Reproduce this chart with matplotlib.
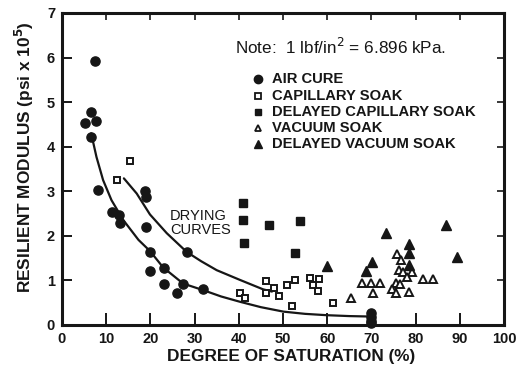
import matplotlib
matplotlib.use("Agg")
import matplotlib.pyplot as plt

plt.rcParams['font.family'] = ['Liberation Sans', 'DejaVu Sans']

INK = '#161616'

# Degree of saturation (%) and resilient modulus (psi x 10^5) per curing / soaking method
air_cure_x = [7.5, 6.5, 5.2, 7.7, 6.5, 8.2, 11.2, 13.0, 13.1, 18.8, 18.9, 19.0, 19.9, 19.8,
              23.1, 23.1, 27.3, 26.1, 32.0, 28.2, 69.8, 69.9, 69.8, 70.0]
air_cure_y = [5.92, 4.78, 4.53, 4.58, 4.21, 3.04, 2.54, 2.47, 2.29, 3.00, 2.87, 2.20, 1.64, 1.22,
              1.27, 0.93, 0.92, 0.71, 0.80, 1.64, 0.26, 0.18, 0.10, 0.04]

cap_soak_x = [15.4, 12.4, 40.3, 41.4, 46.2, 46.2, 48.0, 49.2, 50.8, 52.7, 52.0, 56.0, 56.9,
              58.2, 58.0, 61.2]
cap_soak_y = [3.68, 3.25, 0.71, 0.60, 0.99, 0.71, 0.82, 0.66, 0.90, 1.01, 0.43, 1.05, 0.90,
              1.03, 0.77, 0.50]

delayed_cap_x = [41.0, 41.0, 41.2, 46.9, 53.8, 52.7]
delayed_cap_y = [2.73, 2.36, 1.83, 2.24, 2.33, 1.61]

vac_soak_x = [67.8, 65.4, 70.0, 70.3, 72.0, 75.7, 76.6, 76.3, 77.2, 79.1, 78.1, 75.6, 76.5,
              74.6, 75.6, 78.6, 81.7, 83.9]
vac_soak_y = [0.95, 0.60, 0.95, 0.72, 0.95, 1.59, 1.46, 1.23, 1.20, 1.20, 1.07, 0.95, 0.93,
              0.80, 0.72, 0.75, 1.03, 1.03]

delayed_vac_x = [59.9, 68.8, 70.1, 73.2, 78.4, 78.4, 78.4, 86.9, 89.3]
delayed_vac_y = [1.32, 1.21, 1.41, 2.06, 1.81, 1.61, 1.35, 2.24, 1.53]

# Hand-drawn drying curves
dry_lower_x = [6.6, 7.8, 9.3, 11.2, 13.9, 17.3, 19.9, 22.9, 27.4, 32.0, 36.0, 40.3, 45.0,
               50.1, 55.0, 59.9, 65.0, 69.7]
dry_lower_y = [4.30, 3.77, 3.25, 2.80, 2.35, 1.91, 1.66, 1.29, 0.93, 0.78, 0.64, 0.52, 0.40,
               0.30, 0.25, 0.22, 0.20, 0.19]
dry_upper_x = [14.0, 16.9, 19.9, 23.7, 28.2, 31.5, 35.0, 40.3, 45.5, 47.5]
dry_upper_y = [3.29, 2.95, 2.48, 2.06, 1.64, 1.43, 1.23, 1.01, 0.80, 0.75]

x_ticks = list(range(0, 101, 10))
x_tick_labels = ['0', '10', '20', '30', '40', '50', '60', '70', '80', '90', '100']
y_ticks = list(range(0, 8))
y_tick_labels = ['0', '1', '2', '3', '4', '5', '6', '7']

legend_labels = ['AIR CURE', 'CAPILLARY SOAK', 'DELAYED CAPILLARY SOAK', 'VACUUM SOAK',
                 'DELAYED VACUUM SOAK']

W, H = 517, 371
fig = plt.figure(figsize=(W / 100, H / 100), dpi=100)
ax_l, ax_r, ax_b, ax_t = 62, 504, 325, 13
ax = fig.add_axes([ax_l / W, 1 - ax_b / H, (ax_r - ax_l) / W, (ax_b - ax_t) / H])


def fx(px):
    return (px - ax_l) / (ax_r - ax_l)


def fy(py):
    return (ax_b - py) / (ax_b - ax_t)


# drying curves
ax.plot(dry_lower_x, dry_lower_y, color=INK, lw=1.6, solid_capstyle='round', zorder=2)
ax.plot(dry_upper_x, dry_upper_y, color=INK, lw=1.6, solid_capstyle='round', zorder=2)

# data points
ax.plot(air_cure_x, air_cure_y, 'o', ms=6.6, color=INK, mec=INK, zorder=3, clip_on=False)
ax.plot(cap_soak_x, cap_soak_y, 's', ms=5, mfc='white', mec=INK, mew=1.4, zorder=3)
ax.plot(delayed_cap_x, delayed_cap_y, 's', ms=5.5, color=INK, zorder=3)
ax.plot(vac_soak_x, vac_soak_y, '^', ms=6, mfc='white', mec=INK, mew=1.4, zorder=3)
ax.plot(delayed_vac_x, delayed_vac_y, '^', ms=7.5, color=INK, zorder=3)

ax.set_xlim(0, 100)
ax.set_ylim(0, 7)

for s in ax.spines.values():
    s.set_linewidth(2.2)
    s.set_color(INK)

ax.set_xticks(x_ticks)
ax.set_xticklabels(x_tick_labels)
ax.set_yticks(y_ticks)
ax.set_yticklabels(y_tick_labels)
ax.tick_params(axis='x', direction='in', length=9, width=1.4, pad=5, colors=INK,
               labelsize=10.5)
ax.tick_params(axis='y', direction='in', length=7, width=1.4, pad=5, colors=INK,
               labelsize=10.5)
for lab in ax.get_xticklabels() + ax.get_yticklabels():
    lab.set_fontweight('bold')

# short inner ticks along the top and right edges
top = ax.secondary_xaxis('top')
top.set_xticks(x_ticks[1:-1])
top.tick_params(direction='in', length=5, width=1.2, labeltop=False, colors=INK)
top.spines['top'].set_linewidth(0)
right = ax.secondary_yaxis('right')
right.set_yticks(y_ticks[1:-1])
right.tick_params(direction='in', length=5, width=1.2, labelright=False, colors=INK)
right.spines['right'].set_linewidth(0)

ax.set_xlabel('DEGREE OF SATURATION (%)', fontsize=12.4, fontweight='bold', color=INK)
ax.xaxis.set_label_coords(fx(291), fy(357))
ax.xaxis.label.set_va('center')
ax.set_ylabel('RESILIENT MODULUS (psi x 10$^\\mathbf{5}$)', fontsize=12.4, fontweight='bold',
              color=INK)
ax.yaxis.set_label_coords(fx(24), fy(157))
ax.yaxis.label.set_va('center')

ax.text(24.4, 2.6, 'DRYING\nCURVES', fontsize=10.5, color=INK, va='top', ha='left',
        linespacing=0.95)

# note and key
ax.text(fx(235), fy(47), 'Note:  1 lbf/in$^2$ = 6.896 kPa.', transform=ax.transAxes,
        fontsize=12.3, color=INK, va='center', ha='left')

key_styles = [
    dict(marker='o', ms=6, color=INK),
    dict(marker='s', ms=4.5, mfc='white', mec=INK, mew=1.3),
    dict(marker='s', ms=5, color=INK),
    dict(marker='^', ms=5, mfc='white', mec=INK, mew=1.3),
    dict(marker='^', ms=5.5, color=INK),
]
rows = [79, 96, 112, 128, 144]
for label, style, py in zip(legend_labels, key_styles, rows):
    ax.plot([fx(258)], [fy(py)], linestyle='none', transform=ax.transAxes, **style)
    ax.text(fx(272), fy(py), label, transform=ax.transAxes, fontsize=10.6, fontweight='bold',
            color=INK, va='center', ha='left')

fig.savefig('out.png', dpi=100, facecolor='white')
